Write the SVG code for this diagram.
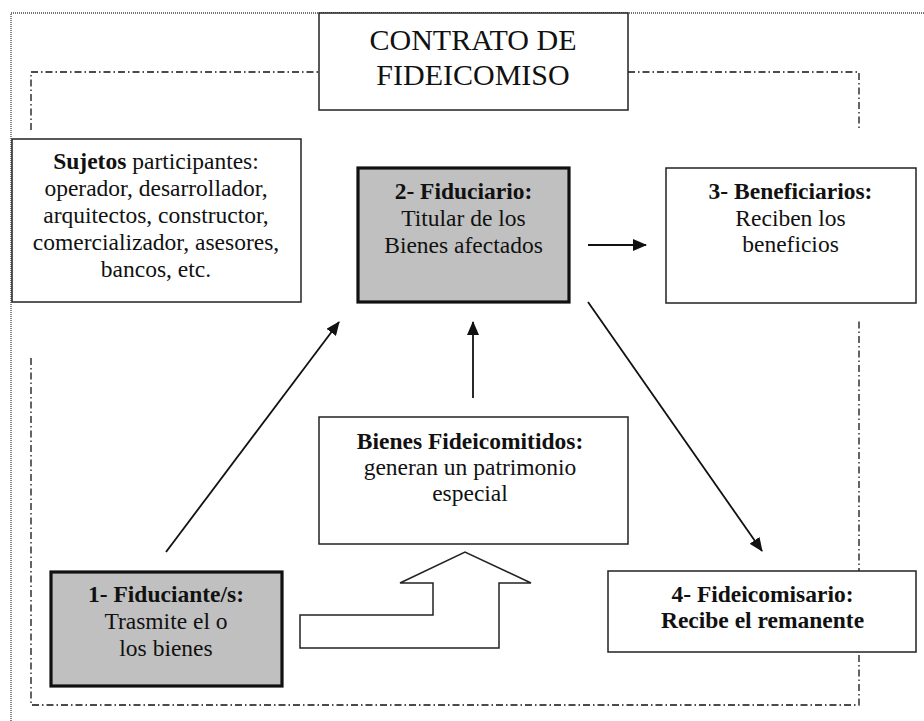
<svg xmlns="http://www.w3.org/2000/svg" width="924" height="721" viewBox="0 0 924 721">
<defs>
<style>
.box{fill:#fff;stroke:#222;stroke-width:1.5}
.thick{fill:#c0c0c0;stroke:#111;stroke-width:3.2}
.t{font-family:"Liberation Serif","Times New Roman",serif;font-size:23.5px;fill:#111;text-anchor:middle}
.b{font-weight:bold}
.title{font-family:"Liberation Serif","Times New Roman",serif;font-size:30px;fill:#111;text-anchor:middle}
.dd{fill:none;stroke:#111;stroke-width:1.3;stroke-dasharray:7 3 1.5 3}
.dot{fill:none;stroke:#444;stroke-width:1.3;stroke-dasharray:1 1}
.arr{stroke:#111;stroke-width:1.8;fill:none;marker-end:url(#ah)}
</style>
<marker id="ah" markerUnits="userSpaceOnUse" markerWidth="14" markerHeight="12" refX="13" refY="6" orient="auto">
<path d="M0,0 L14,6 L0,12 z" fill="#111"/>
</marker>
</defs>
<g id="frame">
<path class="dot" d="M11,721 V13 H924"/>
<path class="dd" d="M31,130 V72 H319"/>
<path class="dd" d="M628,72 H859 V130"/>
<path class="dd" d="M31,358 V705 H859 V320"/>
</g>
<g id="connectors">
<line class="arr" x1="166" y1="552" x2="339" y2="322"/>
<line class="arr" x1="473" y1="398" x2="473" y2="322"/>
<line class="arr" x1="588" y1="245" x2="646" y2="245"/>
<line class="arr" x1="588" y1="302" x2="762" y2="551"/>
<polygon id="block-arrow" class="box" points="300,615 433,615 433,583 400,583 465,552 531,583 499,583 499,648 300,648"/>
</g>
<g id="title">
<rect class="box" x="319" y="13" width="309" height="97"/>
<text class="title" x="473" y="50">CONTRATO DE</text>
<text class="title" x="473" y="85">FIDEICOMISO</text>
</g>
<g id="sujetos">
<rect class="box" x="12" y="139" width="289" height="163"/>
<text class="t" x="156" y="169"><tspan class="b">Sujetos</tspan> participantes:</text>
<text class="t" x="156" y="196">operador, desarrollador,</text>
<text class="t" x="156" y="223">arquitectos, constructor,</text>
<text class="t" x="156" y="250">comercializador, asesores,</text>
<text class="t" x="156" y="277">bancos, etc.</text>
</g>
<g id="fiduciario">
<rect class="thick" x="358" y="168" width="211" height="134"/>
<text class="t b" x="463.5" y="199">2- Fiduciario:</text>
<text class="t" x="463.5" y="226">Titular de los</text>
<text class="t" x="463.5" y="253">Bienes afectados</text>
</g>
<g id="beneficiarios">
<rect class="box" x="666" y="168" width="250" height="135"/>
<text class="t b" x="790.5" y="199">3- Beneficiarios:</text>
<text class="t" x="790.5" y="226">Reciben los</text>
<text class="t" x="790.5" y="252">beneficios</text>
</g>
<g id="bienes">
<rect class="box" x="319" y="417" width="309" height="127"/>
<text class="t b" x="470" y="449">Bienes Fideicomitidos:</text>
<text class="t" x="470" y="475">generan un patrimonio</text>
<text class="t" x="470" y="501">especial</text>
</g>
<g id="fiduciante">
<rect class="thick" x="51" y="572" width="231" height="114"/>
<text class="t b" x="166" y="602">1- Fiduciante/s:</text>
<text class="t" x="166" y="629">Trasmite el o</text>
<text class="t" x="166" y="656">los bienes</text>
</g>
<g id="fideicomisario">
<rect class="box" x="608" y="571" width="308" height="81"/>
<text class="t b" x="762.5" y="602">4- Fideicomisario:</text>
<text class="t b" x="762.5" y="628">Recibe el remanente</text>
</g>
</svg>
